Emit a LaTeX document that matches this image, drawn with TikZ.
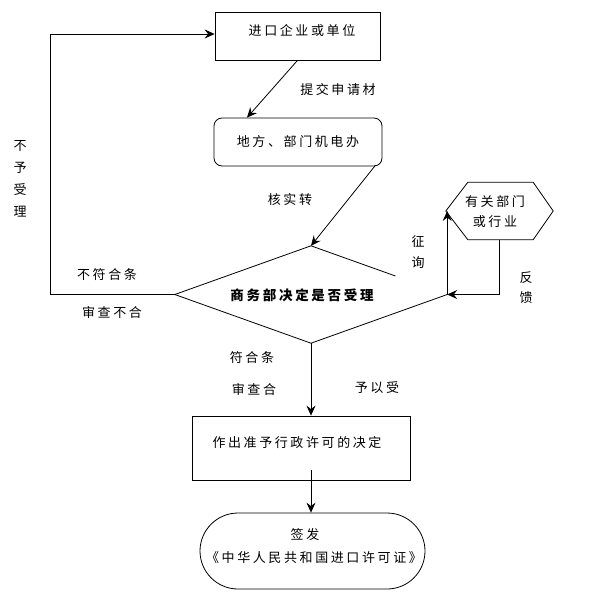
\documentclass[tikz,border=0pt]{standalone}
\usepackage{fontspec}
\setmainfont{Noto Sans CJK SC}[LetterSpace=20]
\usetikzlibrary{arrows.meta,calc,shapes.geometric}
\begin{document}
\begin{tikzpicture}[x=1pt,y=-1pt,
  every node/.style={font=\fontsize{13}{15}\selectfont, inner sep=0pt},
  line/.style={line width=0.8pt, black},
  arr/.style={line, -{Stealth[length=10pt,width=9pt,inset=3.5pt]}},
  boxnode/.style={draw, line width=0.8pt, rectangle},
  lbl/.style={align=center},
  vlbl/.style={align=center, font=\fontsize{13}{21}\selectfont}
]
\useasboundingbox (0,0) rectangle (607,598);

% nodes
\node[boxnode, minimum width=165pt, minimum height=48pt] (n1) at (297.5,36) {};
\node (t1) at (302,31) {进口企业或单位};

\node[boxnode, rounded corners=8pt, minimum width=168pt, minimum height=48pt] (n2) at (298,142) {地方、部门机电办};

\node[diamond, draw=none, minimum width=272pt, minimum height=97pt, aspect=2.8] (d) at (311,294.5) {};
\node (dt) at (302,295) {\fontsize{13.5}{15}\selectfont\bfseries 商务部决定是否受理};

\node[draw=none, minimum width=107pt, minimum height=57pt] (hex) at (499.5,211) {};
\node[lbl, font=\fontsize{13}{20}\selectfont] (hext) at (495,212) {有关部门\\或行业};

\node[boxnode, minimum width=218pt, minimum height=64pt] (n3) at (301,448) {};
\node (t3) at (297,443) {作出准予行政许可的决定};

\node[boxnode, rounded corners=38pt, minimum width=225pt, minimum height=76pt] (n4) at (312.5,551) {};
\node (t4a) at (305,535) {签发};
\node (t4b) at (314,558) {《中华人民共和国进口许可证》};

% shapes drawn manually
\draw[line] (d.west) -- (d.north) -- ($(d.north)!0.62!(d.east)$);
\draw[line] (d.east) -- (d.south) -- (d.west);
\draw[line] (hex.west) -- ([xshift=22pt]hex.north west) -- ([xshift=-20pt]hex.north east)
  -- (hex.east) -- ([xshift=-20pt]hex.south east) -- ([xshift=22pt]hex.south west) -- cycle;

% connectors
\draw[arr] (n1.south) -- ([xshift=-51pt]n2.north);
\draw[arr] ([xshift=-7pt,yshift=1pt]n2.south east) -- (d.north);
\coordinate (lcorner) at (50,0);
\draw[arr] (d.west) -- (d.west -| lcorner) |- ([yshift=2pt]n1.west);
\draw[arr] (d.east) -- (d.east |- hex.west);
\draw[arr] (hex.south) -- (hex.south |- d.east) -- (d.east);
\draw[arr] (d.south) -- (d.south |- n3.north);
\coordinate (s3) at ([yshift=10pt]n3.south);
\draw[arr] (s3 -| d.south) -- (d.south |- n4.north);

% labels
\node (l1) at (338,90) {提交申请材};
\node (l2) at (290,200) {核实转};
\node[vlbl, font=\fontsize{13}{22}\selectfont] (l3) at (20,178.5) {不\\予\\受\\理};
\node (l4) at (107,275) {不符合条};
\node (l5) at (112,312) {审查不合};
\node[vlbl] (l6) at (418,252.5) {征\\询};
\node[vlbl, font=\fontsize{13}{20}\selectfont] (l7) at (526,288) {反\\馈};
\node (l8) at (252,358) {符合条};
\node (l9) at (254,389) {审查合};
\node (l10) at (377,388) {予以受};
\end{tikzpicture}
\end{document}
